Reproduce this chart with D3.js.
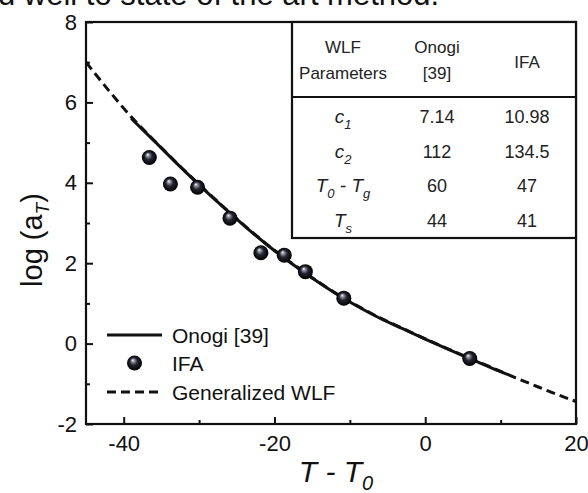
<!DOCTYPE html>
<html><head><meta charset="utf-8">
<script src="https://cdn.jsdelivr.net/npm/d3@7"></script>
<style>
html,body{margin:0;padding:0;background:#fff;}
svg{display:block;font-family:"Liberation Sans",Arial,Helvetica,sans-serif;}
</style></head><body>
<svg id="chart" width="588" height="493"></svg>
<script>
// Shift factor log(a_T) against T - T0: WLF curves and IFA estimates

// Generalized WLF curve (dashed)
const wlfT   = [-45, -42, -39, -36, -33, -30, -27, -24, -21, -18, -15, -12, -9, -6, -3, 0, 3, 6, 9, 12, 15, 18, 20];
const wlfLog = [7.00, 6.30, 5.64, 5.06, 4.50, 3.96, 3.44, 2.94, 2.47, 2.04, 1.64, 1.27, 0.94, 0.64, 0.38, 0.12, -0.13, -0.37, -0.61, -0.85, -1.08, -1.30, -1.44];

// Onogi [39] curve (solid)
const onogiT   = [-39, -36, -33, -30, -27, -24, -21, -18, -15, -12, -9, -6, -3, 0, 3, 6, 9, 11];
const onogiLog = [5.60, 5.05, 4.49, 3.95, 3.43, 2.93, 2.46, 2.03, 1.63, 1.26, 0.93, 0.63, 0.37, 0.11, -0.14, -0.38, -0.62, -0.77];

// IFA estimates (spheres)
const ifaT   = [-36.6, -33.8, -30.2, -25.9, -21.8, -18.7, -15.9, -10.8, 5.9];
const ifaLog = [4.63, 3.97, 3.89, 3.12, 2.26, 2.20, 1.79, 1.13, -0.37];

// Axis ticks
const xMajorTicks = [-40, -20, 0, 20];
const xMinorTicks = [-30, -10, 10];
const yMajorTicks = [-2, 0, 2, 4, 6, 8];
const yMinorTicks = [-1, 1, 3, 5, 7];

// Parameter table
const tableHeads   = [["WLF", "Parameters"], ["Onogi", "[39]"], ["IFA"]];
const paramNames   = [[["c", "1"]], [["c", "2"]], [["T", "0"], [" - ", null], ["T", "g"]], [["T", "s"]]];
const onogiParams  = ["7.14", "112", "60", "44"];
const ifaParams    = ["10.98", "134.5", "47", "41"];

// Legend entries
const legendLabels = ["Onogi [39]", "IFA", "Generalized WLF"];

const svg = d3.select("#chart");
const L = 86, R = 576, T = 22, B = 424;
const x = d3.scaleLinear().domain([-45, 20]).range([L, R]);
const y = d3.scaleLinear().domain([-2, 8]).range([B, T]);
const plain = d => String(d);   // ASCII hyphen for negative labels

// Sentence fragment above the figure
svg.append("text")
  .attr("x", -2).attr("y", 5)
  .attr("font-size", 31).attr("fill", "#111")
  .text("d well to state of the art method.");

const defs = svg.append("defs");
defs.append("clipPath").attr("id", "plotClip")
  .append("rect").attr("x", L).attr("y", T).attr("width", R - L).attr("height", B - T);
const grad = defs.append("radialGradient").attr("id", "ball")
  .attr("cx", "50%").attr("cy", "50%").attr("r", "50%").attr("fx", "38%").attr("fy", "30%");
grad.append("stop").attr("offset", "0%").attr("stop-color", "#ffffff");
grad.append("stop").attr("offset", "18%").attr("stop-color", "#9a9aa8");
grad.append("stop").attr("offset", "50%").attr("stop-color", "#25252f");
grad.append("stop").attr("offset", "100%").attr("stop-color", "#000000");

// Axes
const fs = 22;
svg.append("g").attr("transform", `translate(0,${B})`)
  .call(d3.axisBottom(x).tickValues(xMajorTicks).tickSizeInner(-7).tickSizeOuter(0).tickPadding(11).tickFormat(plain));
svg.append("g").attr("transform", `translate(0,${B})`)
  .call(d3.axisBottom(x).tickValues(xMinorTicks).tickSizeInner(-4).tickSizeOuter(0).tickFormat(""));
svg.append("g").attr("transform", `translate(${L},0)`)
  .call(d3.axisLeft(y).tickValues(yMajorTicks).tickSizeInner(-7).tickSizeOuter(0).tickPadding(9).tickFormat(plain));
svg.append("g").attr("transform", `translate(${L},0)`)
  .call(d3.axisLeft(y).tickValues(yMinorTicks).tickSizeInner(-4).tickSizeOuter(0).tickFormat(""));
svg.selectAll(".domain").remove();
svg.selectAll(".tick line").attr("stroke", "#111").attr("stroke-width", 2);
svg.selectAll(".tick text").filter(function () { return this.textContent === ""; }).remove();
svg.selectAll(".tick text").attr("font-size", fs).attr("fill", "#111")
  .attr("font-family", "'Liberation Sans', Arial, sans-serif");

// Curves
const plot = svg.append("g").attr("clip-path", "url(#plotClip)");
const line = d3.line().x(d => x(d[0])).y(d => y(d[1])).curve(d3.curveMonotoneX);
plot.append("path")
  .attr("d", line(d3.zip(wlfT, wlfLog)))
  .attr("fill", "none").attr("stroke", "#111").attr("stroke-width", 3)
  .attr("stroke-dasharray", "9,5");
plot.append("path")
  .attr("d", line(d3.zip(onogiT, onogiLog)))
  .attr("fill", "none").attr("stroke", "#111").attr("stroke-width", 3);

// IFA spheres
plot.selectAll("circle.ifa").data(d3.zip(ifaT, ifaLog)).join("circle")
  .attr("class", "ifa")
  .attr("cx", d => x(d[0])).attr("cy", d => y(d[1])).attr("r", 7.5)
  .attr("fill", "url(#ball)");

// Frame
svg.append("rect").attr("x", L).attr("y", T).attr("width", R - L).attr("height", B - T)
  .attr("fill", "none").attr("stroke", "#111").attr("stroke-width", 2.2);

// Axis titles
const yTitle = svg.append("text")
  .attr("transform", "translate(42,240) rotate(-90)")
  .attr("text-anchor", "middle").attr("font-size", 29).attr("fill", "#111");
yTitle.append("tspan").text("log (a");
yTitle.append("tspan").attr("font-size", 19).attr("font-style", "italic").attr("dy", 7).text("T");
yTitle.append("tspan").attr("dy", -7).text(")");

const xTitle = svg.append("text")
  .attr("x", 336).attr("y", 482)
  .attr("text-anchor", "middle").attr("font-size", 30).attr("font-style", "italic").attr("fill", "#111");
xTitle.append("tspan").text("T - T");
xTitle.append("tspan").attr("font-size", 20).attr("dy", 8).text("0");

// Legend
const lg = svg.append("g");
const legX0 = 107, legX1 = 162, legText = 172, legY = [335, 363, 392];
lg.append("line").attr("x1", legX0).attr("x2", legX1).attr("y1", legY[0]).attr("y2", legY[0])
  .attr("stroke", "#111").attr("stroke-width", 3);
lg.append("circle").attr("cx", (legX0 + legX1) / 2).attr("cy", legY[1]).attr("r", 7.5).attr("fill", "url(#ball)");
lg.append("line").attr("x1", legX0).attr("x2", legX1).attr("y1", legY[2]).attr("y2", legY[2])
  .attr("stroke", "#111").attr("stroke-width", 3).attr("stroke-dasharray", "9,5");
lg.selectAll("text").data(legendLabels).join("text")
  .attr("x", legText).attr("y", (d, i) => legY[i] + 7.5)
  .attr("font-size", 21).attr("fill", "#111").text(d => d);

// Parameter table
const tb = svg.append("g");
const tL = 292, tR = R, tT = T, tB = 238, tH = 97;
const colX = [343, 437, 527];
tb.append("rect").attr("x", tL).attr("y", tT).attr("width", tR - tL).attr("height", tB - tT)
  .attr("fill", "#fff").attr("stroke", "#111").attr("stroke-width", 2.2);
tb.append("line").attr("x1", tL).attr("x2", tR).attr("y1", tH).attr("y2", tH)
  .attr("stroke", "#111").attr("stroke-width", 2.2);
const tfs = 17;
tableHeads.forEach((lines, c) => {
  const ys = lines.length === 2 ? [46.7, 73] : [61.7];
  lines.forEach((s, k) => {
    tb.append("text").attr("x", colX[c]).attr("y", ys[k] + 6)
      .attr("text-anchor", "middle").attr("font-size", tfs).attr("fill", "#222").text(s);
  });
});
const rowY = [116.7, 151.7, 185.5, 221];
const subShift = 6;
paramNames.forEach((parts, r) => {
  const t = tb.append("text").attr("x", colX[0]).attr("y", rowY[r] + 6)
    .attr("text-anchor", "middle").attr("font-size", 19).attr("font-style", "italic").attr("fill", "#222");
  let lowered = false;
  parts.forEach(([main, sub]) => {
    t.append("tspan").attr("dy", lowered ? -subShift : 0).text(main);
    lowered = false;
    if (sub) {
      t.append("tspan").attr("font-size", 13).attr("dy", subShift).text(sub);
      lowered = true;
    }
  });
});
[onogiParams, ifaParams].forEach((vals, c) => {
  tb.selectAll(null).data(vals).join("text")
    .attr("x", colX[c + 1]).attr("y", (d, i) => rowY[i] + 6)
    .attr("text-anchor", "middle").attr("font-size", 18).attr("fill", "#222").text(d => d);
});
</script>
</body></html>
